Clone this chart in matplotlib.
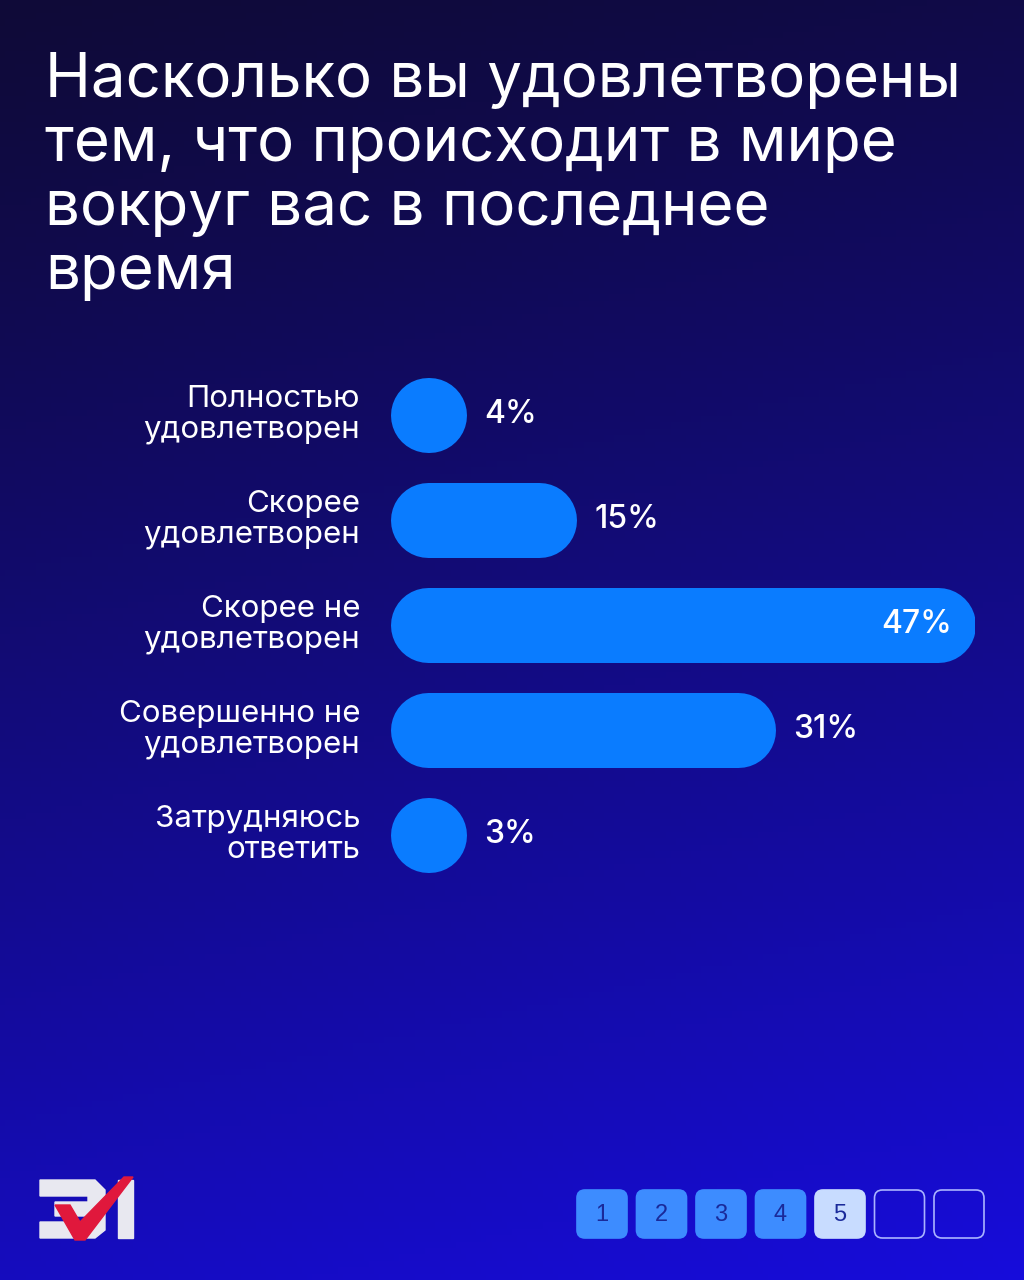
import numpy as np
import matplotlib
import matplotlib.pyplot as plt
from matplotlib.patches import FancyBboxPatch, Polygon

matplotlib.use('Agg')
plt.rcParams['font.family'] = ['Inter', 'DejaVu Sans']

title = 'Насколько вы удовлетворены\nтем, что происходит в мире\nвокруг вас в последнее\nвремя'
categories = ['Полностью\nудовлетворен', 'Скорее\nудовлетворен', 'Скорее не\nудовлетворен',
              'Совершенно не\nудовлетворен', 'Затрудняюсь\nответить']
values = [4, 15, 47, 31, 3]
pages = ['1', '2', '3', '4', '5', '', '']

W, H = 1024, 1280
fig = plt.figure(figsize=(W / 100, H / 100), dpi=100)

# фон с градиентом
bg = fig.add_axes([0, 0, 1, 1])
bg.set_xlim(0, W)
bg.set_ylim(H, 0)
bg.axis('off')
yy, xx = np.mgrid[0:1:200j, 0:1:200j]
t = np.clip(yy * 0.85 + xx * 0.15, 0, 1) ** 1.2
top = np.array([0.06, 0.04, 0.22])
bot = np.array([0.09, 0.05, 0.86])
img = top[None, None, :] * (1 - t[..., None]) + bot[None, None, :] * t[..., None]
bg.imshow(img, extent=[0, W, H, 0], aspect='auto', zorder=0)

bg.text(45, 52, title, color='white', fontsize=44.5, va='top', ha='left',
        linespacing=1.13, zorder=2)

# логотип
bg.add_patch(Polygon([[40, 1180], [95, 1180], [105, 1190], [105, 1230], [95, 1238], [40, 1238],
                      [40, 1222], [88, 1222], [88, 1216], [55, 1216], [55, 1202], [88, 1202],
                      [88, 1196], [40, 1196]], closed=True, color='#e8e8f0', zorder=2))
bg.add_patch(Polygon([[118, 1180], [133, 1180], [133, 1238], [118, 1238]], color='#e8e8f0', zorder=2))
bg.add_patch(Polygon([[55, 1205], [70, 1205], [80, 1222], [124, 1177], [133, 1177], [85, 1240], [75, 1240]],
                     color='#e0183c', zorder=3))

# номера страниц
for i, p in enumerate(pages):
    x0 = 577 + i * 59.5
    if i < 4:
        fc, ec = '#3d8cff', '#3d8cff'
    elif i == 4:
        fc, ec = '#c8dcff', '#c8dcff'
    else:
        fc, ec = 'none', '#aab4ff'
    bg.add_patch(FancyBboxPatch((x0 + 4, 1194), 42, 40, boxstyle='round,pad=4,rounding_size=8',
                                fc=fc, ec=ec, lw=1.2, zorder=2))
    if p:
        bg.text(x0 + 25, 1215, p, color='#1a2a9a', fontsize=17, ha='center', va='center',
                family=['Liberation Sans', 'DejaVu Sans'], zorder=3)

# столбцы
ax = fig.add_axes([390 / W, 1 - 887 / H, 585 / W, 525 / H])
ax.set_xlim(0, 47)
ax.set_ylim(len(values) - 0.5, -0.5)
ax.axis('off')
ax.patch.set_alpha(0)
r = 37.5 / 585 * 47
lw = 75 * 72 / 100
for i, (c, v) in enumerate(zip(categories, values)):
    x_end = max(v - r, r + 0.15)
    ax.plot([r, x_end], [i, i], color='#0a7cff', lw=lw, solid_capstyle='round', zorder=2)
    if v == max(values):
        ax.text(v - 0.6 * r, i, f'{v}%', color='white', fontsize=23, ha='right', va='center',
                fontweight='medium')
    else:
        ax.text(x_end + r + 1.4, i, f'{v}%', color='white', fontsize=23, ha='left', va='center',
                fontweight='medium')
    ax.text(-2.4, i, c, color='white', fontsize=22.5, ha='right', va='center',
            linespacing=1.15, clip_on=False)

fig.savefig('out.png', dpi=100)
